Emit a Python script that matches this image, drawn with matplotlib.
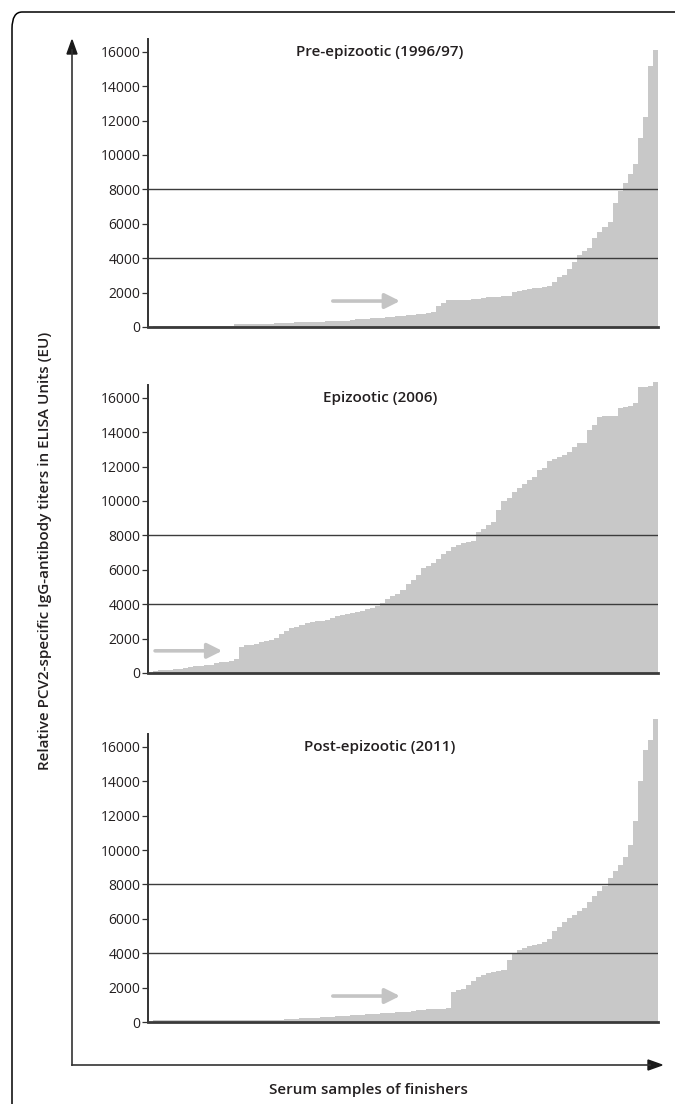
import matplotlib
matplotlib.use("Agg")
import matplotlib.pyplot as plt
import numpy as np
from matplotlib.patches import FancyBboxPatch

plt.rcParams['font.family'] = ['Open Sans', 'DejaVu Sans']

# sorted titers per serum sample (EU)
pre_epizootic = [
    30, 60, 60, 60, 60, 60, 60, 60, 60, 60,
    60, 60, 60, 60, 60, 60, 150, 160, 170, 170,
    180, 180, 190, 200, 230, 240, 250, 260, 270, 280,
    290, 290, 300, 310, 320, 330, 340, 350, 370, 400,
    440, 460, 480, 500, 520, 540, 560, 580, 620, 650,
    680, 700, 730, 780, 830, 860, 1200, 1400, 1550, 1560,
    1570, 1580, 1590, 1600, 1620, 1700, 1720, 1740, 1760, 1780,
    1800, 2050, 2100, 2150, 2200, 2250, 2280, 2350, 2400, 2600,
    2900, 3050, 3400, 3800, 4200, 4400, 4600, 5200, 5500, 5800,
    6100, 7200, 7900, 8400, 8900, 9500, 11000, 12200, 15200, 16100,
]
epizootic = [
    100, 150, 180, 200, 220, 260, 300, 340, 380, 420,
    460, 490, 580, 620, 660, 680, 820, 1500, 1600, 1650,
    1700, 1780, 1850, 1930, 2050, 2250, 2450, 2600, 2700, 2800,
    2900, 2960, 3000, 3050, 3100, 3200, 3300, 3380, 3450, 3500,
    3550, 3600, 3700, 3800, 3900, 4050, 4300, 4500, 4600, 4800,
    5200, 5400, 5700, 6100, 6250, 6400, 6600, 6900, 7100, 7300,
    7450, 7550, 7600, 7700, 8200, 8400, 8600, 8800, 9500, 10000,
    10200, 10500, 10750, 11000, 11200, 11400, 11800, 11900, 12350, 12450,
    12550, 12700, 12850, 13150, 13400, 13400, 14100, 14400, 14900, 14950,
    14950, 14950, 15400, 15450, 15500, 15700, 16600, 16650, 16700, 16900,
]
post_epizootic = [
    100, 100, 100, 100, 100, 100, 100, 100, 100, 100,
    100, 100, 100, 100, 100, 100, 100, 100, 100, 100,
    100, 100, 100, 100, 100, 100, 150, 170, 190, 210,
    230, 240, 250, 270, 290, 300, 320, 340, 360, 380,
    400, 420, 440, 460, 480, 500, 520, 540, 560, 580,
    600, 640, 680, 720, 740, 760, 770, 780, 790, 1750,
    1850, 1930, 2150, 2400, 2600, 2750, 2850, 2900, 2950, 3030,
    3600, 3950, 4200, 4300, 4400, 4450, 4550, 4650, 4800, 5300,
    5550, 5800, 6050, 6250, 6450, 6650, 7000, 7300, 7600, 7900,
    8400, 8800, 9100, 9600, 10300, 11700, 14000, 15800, 16400, 17600,
]

titles = ['Pre-epizootic (1996/97)', 'Epizootic (2006)', 'Post-epizootic (2011)']
series = [pre_epizootic, epizootic, post_epizootic]
yticks = [0, 2000, 4000, 6000, 8000, 10000, 12000, 14000, 16000]
thresholds = [4000, 8000]

W, H = 675, 1104
fig = plt.figure(figsize=(W / 100, H / 100), dpi=100)

# panel bottoms in pixels from top, arrow starts (data x) and heights
bottoms = [327, 673, 1022]
arrows = [(35.6, 48.9, 1510), (0.4, 13.7, 1290), (35.6, 48.9, 1510)]
ax_left, ax_right = 148, 658
ymax = 17800
px_per_unit = 0.0172

dark = '#333333'
fill_col = '#c8c8c8'

for vals, title, b, arr in zip(series, titles, bottoms, arrows):
    h = ymax * px_per_unit
    ax = fig.add_axes([ax_left / W, (H - b) / H, (ax_right - ax_left) / W, h / H])
    n = len(vals)
    ax.stairs(vals, np.arange(n + 1), fill=True, color=fill_col, lw=0, zorder=1, clip_on=False)
    for t in thresholds:
        ax.axhline(t, color='#3c3c3c', lw=1.0, zorder=2)
    ax.set_xlim(-1, n)
    ax.set_ylim(0, ymax)
    ax.set_yticks(yticks)
    ax.set_yticklabels([str(v) for v in yticks], fontsize=10, color='#231f20')
    ax.tick_params(axis='y', length=4.5, width=0.9, color=dark, pad=1)
    ax.set_xticks([])
    for s in ['top', 'right']:
        ax.spines[s].set_visible(False)
    ax.spines['left'].set_bounds(0, 16750)
    ax.spines['left'].set_linewidth(1.4)
    ax.spines['left'].set_color(dark)
    ax.spines['bottom'].set_linewidth(2.0)
    ax.spines['bottom'].set_color('#3a3a3a')
    ax.spines['bottom'].set_zorder(3)
    ax.patch.set_alpha(0)
    ax.text(0.455, 16000, title, transform=ax.get_yaxis_transform(), ha='center', va='center',
            fontsize=11, fontweight='semibold', color='#231f20')
    ax.annotate('', xy=(arr[1], arr[2]), xytext=(arr[0], arr[2]),
                arrowprops=dict(arrowstyle='-|>,head_length=0.9,head_width=0.45',
                                color='#c4c4c4', lw=2.6, shrinkA=0, shrinkB=0))

# big axis arrows
fig.add_artist(plt.Line2D([72 / W, 72 / W], [1 - 1065 / H, 1 - 50 / H], color=dark, lw=1.2))
fig.add_artist(plt.Line2D([72 / W, 650 / W], [1 - 1065 / H, 1 - 1065 / H], color=dark, lw=1.2))
fig.patches.append(plt.Polygon([[72 / W, 1 - 40 / H], [67 / W, 1 - 54 / H], [77 / W, 1 - 54 / H]],
                               closed=True, color='#1a1a1a', transform=fig.transFigure))
fig.patches.append(plt.Polygon([[662 / W, 1 - 1065 / H], [648 / W, 1 - 1060 / H], [648 / W, 1 - 1070 / H]],
                               closed=True, color='#1a1a1a', transform=fig.transFigure))

fig.text(45 / W, 1 - 551 / H, 'Relative PCV2-specific IgG-antibody titers in ELISA Units (EU)',
         rotation=90, ha='center', va='center', fontsize=11, fontweight='semibold', color='#231f20')
fig.text(368 / W, 1 - 1090 / H, 'Serum samples of finishers', ha='center', va='center',
         fontsize=11, fontweight='semibold', color='#231f20')

# rounded frame, right and bottom edges fall outside the picture
frame = FancyBboxPatch((12 / W, -0.05), 1.1, 1 - 12 / H + 0.05,
                       boxstyle='round,pad=0,rounding_size=0.015', transform=fig.transFigure,
                       fill=False, ec='black', lw=1.1)
fig.patches.append(frame)

fig.savefig('out.png', dpi=100)
